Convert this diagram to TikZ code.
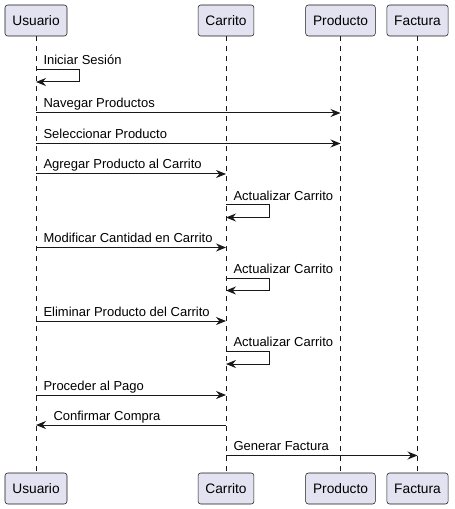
\documentclass[tikz,border=0pt]{standalone}
\usepackage{fontspec}
\setmainfont{Liberation Sans}
\usepackage{xcolor}
\usetikzlibrary{arrows.meta}
\definecolor{partfill}{RGB}{226,226,240}
\definecolor{partline}{RGB}{24,24,24}

\begin{document}
\begin{tikzpicture}[x=0.75pt,y=-0.75pt,>={Stealth[length=7.5pt,width=6pt,inset=2.5pt]},
  part/.style={draw=partline,fill=partfill,rounded corners=2pt,line width=0.4pt,inner xsep=5.5pt,minimum height=23.25pt,font=\fontsize{10.3}{12}\selectfont},
  life/.style={partline,line width=0.4pt,dash pattern=on 3.75pt off 3.75pt},
  msg/.style={->,partline,line width=0.75pt},
  lbl/.style={anchor=base west,inner sep=0pt,font=\fontsize{9.75}{11}\selectfont,text=black}]
\useasboundingbox (0,0) rectangle (454,509);
\node[part] (uT) at (36,20.5) {Usuario};
\node[part] (cT) at (226,20.5) {Carrito};
\node[part] (pT) at (340.5,20.5) {Producto};
\node[part] (fT) at (417.5,20.5) {Factura};
\node[part] (uB) at (36,488.5) {Usuario};
\node[part] (cB) at (226,488.5) {Carrito};
\node[part] (pB) at (340.5,488.5) {Producto};
\node[part] (fB) at (417.5,488.5) {Factura};
\draw[life] (uT) -- (uB);
\draw[life] (cT) -- (cB);
\draw[life] (pT) -- (pB);
\draw[life] (fT) -- (fB);
\draw[msg] (uT |- 0,69.5) node[lbl,xshift=5.25pt,yshift=3.5pt] {Iniciar Sesión} -- ++(43,0) -- ++(0,12.5) -- (uT |- 0,82);
\draw[msg] (uT |- 0,113) node[lbl,xshift=5.25pt,yshift=3.75pt] {Navegar Productos} -- (pT |- 0,113);
\draw[msg] (uT |- 0,143.5) node[lbl,xshift=5.25pt,yshift=3.75pt] {Seleccionar Producto} -- (pT |- 0,143.5);
\draw[msg] (uT |- 0,174) node[lbl,xshift=5.25pt,yshift=3.75pt] {Agregar Producto al Carrito} -- (cT |- 0,174);
\draw[msg] (cT |- 0,205) node[lbl,xshift=5.25pt,yshift=3.5pt] {Actualizar Carrito} -- ++(43,0) -- ++(0,12.5) -- (cT |- 0,217.5);
\draw[msg] (uT |- 0,247.5) node[lbl,xshift=5.25pt,yshift=3.75pt] {Modificar Cantidad en Carrito} -- (cT |- 0,247.5);
\draw[msg] (cT |- 0,278) node[lbl,xshift=5.25pt,yshift=3.5pt] {Actualizar Carrito} -- ++(43,0) -- ++(0,12.5) -- (cT |- 0,290.5);
\draw[msg] (uT |- 0,321) node[lbl,xshift=5.25pt,yshift=3.75pt] {Eliminar Producto del Carrito} -- (cT |- 0,321);
\draw[msg] (cT |- 0,351.5) node[lbl,xshift=5.25pt,yshift=3.5pt] {Actualizar Carrito} -- ++(43,0) -- ++(0,12.5) -- (cT |- 0,364);
\draw[msg] (uT |- 0,395) node[lbl,xshift=5.25pt,yshift=3.75pt] {Proceder al Pago} -- (cT |- 0,395);
\draw[msg] (cT |- 0,425) -- (uT |- 0,425) node[lbl,xshift=12.75pt,yshift=3.75pt] {Confirmar Compra};
\draw[msg] (cT |- 0,455.5) node[lbl,xshift=5.25pt,yshift=3.75pt] {Generar Factura} -- (fT |- 0,455.5);
\end{tikzpicture}
\end{document}
